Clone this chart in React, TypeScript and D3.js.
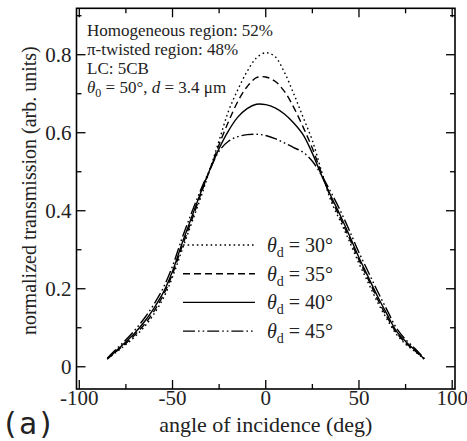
import React from 'react';
import * as d3 from 'd3';

// angle of incidence (deg) sampled along each curve
const angles = [-85, -80, -75, -70, -65, -60, -55, -50, -45, -40, -35, -30, -25, -20, -15, -10, -5, 0,
  5, 10, 15, 20, 25, 30, 35, 40, 45, 50, 55, 60, 65, 70, 75, 80, 85];

// normalized transmission for each theta_d
const trans30 = [0.02, 0.038, 0.057, 0.078, 0.103, 0.135, 0.175, 0.23, 0.298, 0.365, 0.432, 0.505, 0.58, 0.655, 0.71, 0.757, 0.792, 0.805,
  0.795, 0.755, 0.7, 0.64, 0.58, 0.5, 0.425, 0.373, 0.32, 0.265, 0.215, 0.165, 0.122, 0.084, 0.058, 0.039, 0.02];
const trans35 = [0.02, 0.04, 0.06, 0.083, 0.109, 0.142, 0.183, 0.238, 0.307, 0.372, 0.44, 0.505, 0.57, 0.628, 0.68, 0.718, 0.741, 0.743,
  0.732, 0.706, 0.665, 0.615, 0.56, 0.495, 0.432, 0.381, 0.328, 0.274, 0.224, 0.173, 0.128, 0.088, 0.061, 0.041, 0.02];
const trans40 = [0.02, 0.042, 0.064, 0.088, 0.116, 0.15, 0.19, 0.245, 0.315, 0.38, 0.445, 0.505, 0.56, 0.605, 0.64, 0.662, 0.673, 0.672,
  0.664, 0.648, 0.625, 0.595, 0.547, 0.49, 0.437, 0.388, 0.335, 0.28, 0.23, 0.18, 0.135, 0.092, 0.065, 0.043, 0.02];
const trans45 = [0.022, 0.046, 0.069, 0.095, 0.125, 0.16, 0.202, 0.258, 0.328, 0.392, 0.452, 0.505, 0.553, 0.578, 0.59, 0.595, 0.596, 0.593,
  0.585, 0.574, 0.562, 0.55, 0.527, 0.49, 0.447, 0.4, 0.348, 0.293, 0.243, 0.193, 0.146, 0.1, 0.07, 0.047, 0.022];

const thetaD = ['30', '35', '40', '45'];

const xMajor = [-100, -50, 0, 50, 100];
const xMinor = [-75, -25, 25, 75];
const yMajor = [0, 0.2, 0.4, 0.6, 0.8];
const yMinor = [0.1, 0.3, 0.5, 0.7, 0.9];

const notes = ['Homogeneous region: 52%', '\u03c0-twisted region: 48%', 'LC: 5CB'];

const W = 467, H = 441;
const margin = {left: 76.5, right: 12, top: 8.3, bottom: 52};
const serif = "'Liberation Serif', 'DejaVu Serif', 'Times New Roman', serif";

const dashes = ['1.6,3', '7,4', 'none', '12,3,1.6,3,1.6,3'];

export default function App() {
  const x = d3.scaleLinear().domain([-101.5, 101.5]).range([margin.left, W - margin.right]);
  const y = d3.scaleLinear().domain([-0.057, 0.919]).range([H - margin.bottom, margin.top]);

  const line = d3.line<[number, number]>()
    .x(d => x(d[0]))
    .y(d => y(d[1]))
    .curve(d3.curveCatmullRom.alpha(0.5));

  const all = [trans30, trans35, trans40, trans45];
  const x0 = margin.left, x1 = W - margin.right;
  const y0 = H - margin.bottom, y1 = margin.top;
  const txt = {fontFamily: serif, fill: '#222'};

  return (
    <svg width={W} height={H} style={{position: 'absolute', left: 0, top: 0, background: '#fff', fontFamily: serif}}>
      {/* curves */}
      {all.map((vals, i) => (
        <path key={i} d={line(angles.map((a, j) => [a, vals[j]]) as [number, number][]) || ''}
              fill="none" stroke="#000" strokeWidth={1.4} strokeDasharray={dashes[i]} />
      ))}

      {/* frame */}
      <rect x={x0} y={y1} width={x1 - x0} height={y0 - y1} fill="none" stroke="#000" strokeWidth={1.6} />

      {/* x ticks bottom & top */}
      {xMajor.map(t => (
        <g key={'xM' + t}>
          <line x1={x(t)} x2={x(t)} y1={y0} y2={y0 - 9} stroke="#000" strokeWidth={1.3} />
          <line x1={x(t)} x2={x(t)} y1={y1} y2={y1 + 9} stroke="#000" strokeWidth={1.3} />
          <text x={x(t)} y={405} textAnchor="middle" fontSize={21} style={txt}>{t}</text>
        </g>
      ))}
      {xMinor.map(t => (
        <g key={'xm' + t}>
          <line x1={x(t)} x2={x(t)} y1={y0} y2={y0 - 5} stroke="#000" strokeWidth={1.3} />
          <line x1={x(t)} x2={x(t)} y1={y1} y2={y1 + 5} stroke="#000" strokeWidth={1.3} />
        </g>
      ))}

      {/* y ticks left & right */}
      {yMajor.map(t => (
        <g key={'yM' + t}>
          <line x1={x0} x2={x0 + 9} y1={y(t)} y2={y(t)} stroke="#000" strokeWidth={1.3} />
          <line x1={x1} x2={x1 - 9} y1={y(t)} y2={y(t)} stroke="#000" strokeWidth={1.3} />
          <text x={x0 - 5} y={y(t)} dy="0.35em" textAnchor="end" fontSize={21} style={txt}>{t}</text>
        </g>
      ))}
      {yMinor.map(t => (
        <g key={'ym' + t}>
          <line x1={x0} x2={x0 + 5} y1={y(t)} y2={y(t)} stroke="#000" strokeWidth={1.3} />
          <line x1={x1} x2={x1 - 5} y1={y(t)} y2={y(t)} stroke="#000" strokeWidth={1.3} />
        </g>
      ))}

      {/* axis titles */}
      <text x={x(0)} y={432} textAnchor="middle" fontSize={22} style={txt}>angle of incidence (deg)</text>
      <text transform={`translate(36,${(y0 + y1) / 2 - 8}) rotate(-90)`} textAnchor="middle" fontSize={20} style={txt}>
        normalized transmission (arb. units)
      </text>

      {/* notes */}
      {notes.map((n, i) => (
        <text key={n} x={87} y={36 + i * 19} fontSize={17} style={txt}>{n}</text>
      ))}
      <text x={87} y={36 + 3 * 19} fontSize={17} style={txt}>
        <tspan fontStyle="italic">{'\u03b8'}</tspan>
        <tspan dy={4} fontSize={12}>0</tspan>
        <tspan dy={-4}>{' = 50\u00b0, '}</tspan>
        <tspan fontStyle="italic">d</tspan>
        <tspan>{' = 3.4 \u03bcm'}</tspan>
      </text>

      {/* legend */}
      {thetaD.map((td, i) => {
        const ly = 245 + i * 28.7;
        return (
          <g key={td}>
            <line x1={183} x2={255} y1={ly} y2={ly} stroke="#000" strokeWidth={1.4} strokeDasharray={dashes[i]} />
            <text x={267} y={ly + 7} fontSize={20} style={txt}>
              <tspan fontStyle="italic">{'\u03b8'}</tspan>
              <tspan dy={5} fontSize={14}>d</tspan>
              <tspan dy={-5}>{` = ${td}\u00b0`}</tspan>
            </text>
          </g>
        );
      })}

      {/* panel label */}
      <text x={1} y={434} fontSize={30} style={{fontFamily: "'DejaVu Sans Mono', monospace", fill: '#222'}}>(a)</text>
    </svg>
  );
}
